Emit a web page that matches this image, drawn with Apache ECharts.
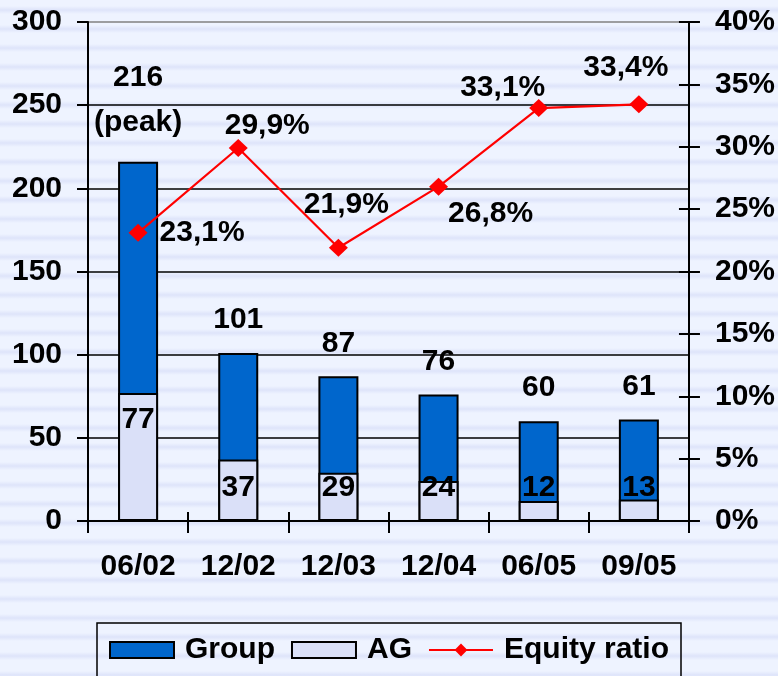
<!DOCTYPE html>
<html>
<head>
<meta charset="utf-8">
<script src="https://cdn.jsdelivr.net/npm/echarts@6/dist/echarts.min.js"></script>
<style>
  html, body { margin: 0; padding: 0; }
  body {
    width: 778px; height: 676px; overflow: hidden;
    background: repeating-linear-gradient(to bottom,
      #EEF3FF 0px, #EEF3FF 6px, #DEE4FA 10px, #EEF3FF 14px, #EEF3FF 19px);
  }
  #chart { width: 778px; height: 676px; }
</style>
</head>
<body>
<div id="chart"></div>
<script>
// ---- data ----
const categories = ['06/02', '12/02', '12/03', '12/04', '06/05', '09/05'];
const groupTotals = [216, 101, 87, 76, 60, 61];
const agValues = [77, 37, 29, 24, 12, 13];
const equityRatio = [23.1, 29.9, 21.9, 26.8, 33.1, 33.4];
const totalNotes = ['(peak)', '', '', '', '', ''];
const leftAxisTicks = [0, 50, 100, 150, 200, 250, 300];
const rightAxisTicks = [0, 5, 10, 15, 20, 25, 30, 35, 40];

// ---- label layout (style only) ----
const ratioLabelOffsets = [[64, 0], [29, -22], [8, -43], [52, 27], [-36, -20], [-13, -37]];
const agLabelPos = ['insideTop', 'insideBottom', 'insideBottom', 'insideBottom', 'insideBottom', 'insideBottom'];

const FONT = "'Liberation Sans', Arial, sans-serif";
const txt = { fontFamily: FONT, fontSize: 30, fontWeight: 'bold', color: '#000' };

const chart = echarts.init(document.getElementById('chart'), null, { renderer: 'canvas' });

const option = {
  backgroundColor: 'transparent',
  animation: false,
  grid: { left: 88, right: 88, top: 22, bottom: 155, containLabel: false },
  legend: {
    left: 'center',
    top: 623,
    data: [{ name: 'Group', icon: 'rect' }, { name: 'AG', icon: 'rect' }, { name: 'Equity ratio' }],
    itemWidth: 64,
    itemHeight: 16,
    itemGap: 16,
    borderColor: '#000',
    borderWidth: 1.5,
    padding: [12, 12, 40, 12],
    textStyle: Object.assign({}, txt, { padding: [0, 0, 0, 6] })
  },
  xAxis: [
    {
      type: 'category',
      data: categories,
      boundaryGap: true,
      axisLine: { show: true, lineStyle: { color: '#000', width: 2 } },
      axisTick: { show: true, length: 12, lineStyle: { color: '#000', width: 2 } },
      axisLabel: Object.assign({ margin: 31 }, txt)
    },
    {
      type: 'category',
      data: categories,
      position: 'bottom',
      boundaryGap: true,
      axisLine: { show: false },
      axisTick: { show: true, inside: true, length: 9, lineStyle: { color: '#000', width: 2 } },
      axisLabel: { show: false }
    }
  ],
  yAxis: [
    {
      type: 'value',
      position: 'left',
      min: leftAxisTicks[0],
      max: leftAxisTicks[leftAxisTicks.length - 1],
      interval: leftAxisTicks[1] - leftAxisTicks[0],
      axisLine: { show: true, lineStyle: { color: '#000', width: 2 } },
      axisTick: { show: true, length: 11, lineStyle: { color: '#000', width: 2 } },
      axisLabel: Object.assign({ margin: 26 }, txt),
      splitLine: {
        show: true,
        lineStyle: { color: ['#000', '#000', '#000', '#000', '#000', '#000', '#808080'], width: 1.6 }
      }
    },
    {
      type: 'value',
      position: 'right',
      min: rightAxisTicks[0],
      max: rightAxisTicks[rightAxisTicks.length - 1],
      interval: rightAxisTicks[1] - rightAxisTicks[0],
      axisLine: { show: true, lineStyle: { color: '#000', width: 2 } },
      axisTick: { show: true, length: 11, lineStyle: { color: '#000', width: 2 } },
      axisLabel: Object.assign({ margin: 26, formatter: '{value}%' }, txt),
      splitLine: { show: false }
    },
    {
      type: 'value',
      position: 'right',
      min: rightAxisTicks[0],
      max: rightAxisTicks[rightAxisTicks.length - 1],
      interval: rightAxisTicks[1] - rightAxisTicks[0],
      axisLine: { show: false },
      axisTick: { show: true, inside: true, length: 10, lineStyle: { color: '#000', width: 2 } },
      axisLabel: { show: false },
      splitLine: { show: false }
    }
  ],
  series: [
    {
      name: 'Group',
      type: 'bar',
      xAxisIndex: 0,
      yAxisIndex: 0,
      barWidth: 40,
      barGap: '-100%',
      z: 2,
      itemStyle: { color: '#0066CC', borderColor: '#000', borderWidth: 2 },
      data: groupTotals.map((v, i) => ({
        value: v,
        label: totalNotes[i]
          ? { lineHeight: 45, distance: 16 }
          : { lineHeight: 30, distance: 18 }
      })),
      label: Object.assign({
        show: true,
        position: 'top',
        formatter: p => totalNotes[p.dataIndex] ? p.value + '\n' + totalNotes[p.dataIndex] : String(p.value)
      }, txt)
    },
    {
      name: 'AG',
      type: 'bar',
      xAxisIndex: 0,
      yAxisIndex: 0,
      barWidth: 40,
      barGap: '-100%',
      z: 3,
      itemStyle: { color: '#DAE0F8', borderColor: '#000', borderWidth: 2 },
      data: agValues.map((v, i) => ({
        value: v,
        label: { position: agLabelPos[i], distance: agLabelPos[i] === 'insideTop' ? 12 : 18 }
      })),
      label: Object.assign({ show: true, lineHeight: 30 }, txt)
    },
    {
      name: 'Equity ratio',
      type: 'line',
      xAxisIndex: 0,
      yAxisIndex: 1,
      z: 5,
      symbol: 'diamond',
      symbolSize: [19, 18],
      lineStyle: { color: '#FF0000', width: 2.2 },
      itemStyle: { color: '#FF0000' },
      data: equityRatio.map((v, i) => ({
        value: v,
        label: { offset: ratioLabelOffsets[i] }
      })),
      label: Object.assign({
        show: true,
        position: 'inside',
        align: 'center',
        verticalAlign: 'middle',
        formatter: p => p.value.toFixed(1).replace('.', ',') + '%'
      }, txt)
    }
  ]
};

chart.setOption(option);
</script>
</body>
</html>
